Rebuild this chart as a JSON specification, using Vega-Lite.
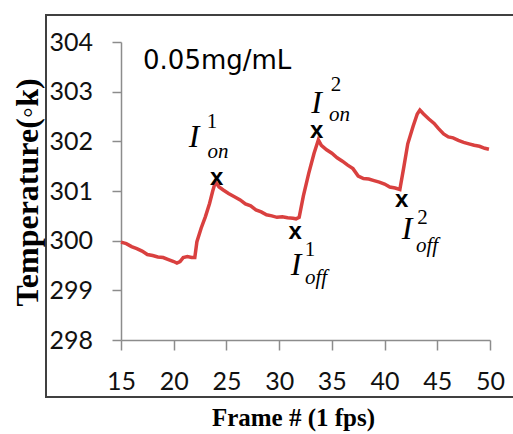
{
  "$schema": "https://vega.github.io/schema/vega-lite/v6.json",
  "width": 468,
  "height": 382,
  "autosize": {"type": "none"},
  "padding": {"left": 46, "top": 15, "right": 0, "bottom": 37},
  "background": "white",
  "config": {
    "view": {"stroke": "#404040", "strokeWidth": 2},
    "axis": {
      "grid": false,
      "domainColor": "#8c8c8c",
      "domainWidth": 1.5,
      "tickColor": "#8c8c8c",
      "tickWidth": 1.5,
      "labelFont": "Lato",
      "labelFontSize": 25,
      "labelColor": "#111111",
      "labelFlush": false,
      "labelOverlap": false,
      "titleFont": "Liberation Serif",
      "titleFontWeight": "bold",
      "titleColor": "#000000"
    }
  },
  "datasets": {
    "curve": [
      {"frame": 15.0, "temp": 299.97}, {"frame": 15.5, "temp": 299.94}, {"frame": 16.0, "temp": 299.88},
      {"frame": 16.5, "temp": 299.84}, {"frame": 17.0, "temp": 299.79}, {"frame": 17.5, "temp": 299.72},
      {"frame": 18.0, "temp": 299.70}, {"frame": 18.5, "temp": 299.67}, {"frame": 19.0, "temp": 299.66},
      {"frame": 19.5, "temp": 299.62}, {"frame": 20.0, "temp": 299.58}, {"frame": 20.3, "temp": 299.55},
      {"frame": 20.6, "temp": 299.58}, {"frame": 20.9, "temp": 299.66}, {"frame": 21.3, "temp": 299.68},
      {"frame": 21.7, "temp": 299.66}, {"frame": 22.0, "temp": 299.66}, {"frame": 22.2, "temp": 299.98},
      {"frame": 22.6, "temp": 300.25}, {"frame": 23.0, "temp": 300.48}, {"frame": 23.4, "temp": 300.75},
      {"frame": 23.7, "temp": 301.0}, {"frame": 23.95, "temp": 301.18}, {"frame": 24.3, "temp": 301.08},
      {"frame": 24.7, "temp": 301.02}, {"frame": 25.2, "temp": 300.95}, {"frame": 25.8, "temp": 300.88},
      {"frame": 26.3, "temp": 300.82}, {"frame": 26.8, "temp": 300.74}, {"frame": 27.3, "temp": 300.7},
      {"frame": 27.8, "temp": 300.62}, {"frame": 28.3, "temp": 300.58}, {"frame": 28.8, "temp": 300.52},
      {"frame": 29.3, "temp": 300.5}, {"frame": 29.8, "temp": 300.47}, {"frame": 30.3, "temp": 300.48},
      {"frame": 30.8, "temp": 300.46}, {"frame": 31.3, "temp": 300.45}, {"frame": 31.6, "temp": 300.44},
      {"frame": 31.9, "temp": 300.47}, {"frame": 32.3, "temp": 300.9}, {"frame": 32.8, "temp": 301.35},
      {"frame": 33.3, "temp": 301.75}, {"frame": 33.72, "temp": 302.03}, {"frame": 34.0, "temp": 301.92},
      {"frame": 34.5, "temp": 301.83}, {"frame": 35.0, "temp": 301.76}, {"frame": 35.5, "temp": 301.67},
      {"frame": 36.0, "temp": 301.6}, {"frame": 36.5, "temp": 301.52}, {"frame": 37.0, "temp": 301.45},
      {"frame": 37.5, "temp": 301.3}, {"frame": 38.0, "temp": 301.25}, {"frame": 38.5, "temp": 301.24},
      {"frame": 39.0, "temp": 301.21}, {"frame": 39.5, "temp": 301.18}, {"frame": 40.0, "temp": 301.14},
      {"frame": 40.5, "temp": 301.08}, {"frame": 41.0, "temp": 301.06}, {"frame": 41.45, "temp": 301.03},
      {"frame": 41.8, "temp": 301.45}, {"frame": 42.2, "temp": 301.95}, {"frame": 42.7, "temp": 302.3},
      {"frame": 43.1, "temp": 302.55}, {"frame": 43.35, "temp": 302.63}, {"frame": 43.7, "temp": 302.55},
      {"frame": 44.2, "temp": 302.45}, {"frame": 44.7, "temp": 302.36}, {"frame": 45.1, "temp": 302.26},
      {"frame": 45.6, "temp": 302.15}, {"frame": 46.05, "temp": 302.09}, {"frame": 46.5, "temp": 302.07},
      {"frame": 47.0, "temp": 302.02}, {"frame": 47.5, "temp": 301.98}, {"frame": 48.0, "temp": 301.95},
      {"frame": 48.5, "temp": 301.92}, {"frame": 49.0, "temp": 301.9}, {"frame": 49.5, "temp": 301.86},
      {"frame": 49.9, "temp": 301.84}
    ],
    "markers": [
      {"frame": 24.08, "temp": 301.26},
      {"frame": 31.51, "temp": 300.18},
      {"frame": 33.57, "temp": 302.2},
      {"frame": 41.62, "temp": 300.82}
    ],
    "labels": [
      {"part": "I", "text": "I", "frame": 21.93, "temp": 302.09},
      {"part": "sup", "text": "1", "frame": 23.63, "temp": 302.39},
      {"part": "sub", "text": "on", "frame": 24.2, "temp": 301.79},
      {"part": "I", "text": "I", "frame": 33.55, "temp": 302.77},
      {"part": "sup", "text": "2", "frame": 35.4, "temp": 303.13},
      {"part": "sub", "text": "on", "frame": 35.73, "temp": 302.53},
      {"part": "I", "text": "I", "frame": 31.6, "temp": 299.52},
      {"part": "sup", "text": "1", "frame": 32.93, "temp": 299.82},
      {"part": "sub", "text": "off", "frame": 33.5, "temp": 299.25},
      {"part": "I", "text": "I", "frame": 42.13, "temp": 300.23},
      {"part": "sup", "text": "2", "frame": 43.6, "temp": 300.45},
      {"part": "sub", "text": "off", "frame": 44.03, "temp": 299.9}
    ],
    "note": [
      {"text": "0.05mg/mL", "frame": 17.09, "temp": 303.61}
    ]
  },
  "encoding": {
    "x": {
      "field": "frame",
      "type": "quantitative",
      "scale": {"domain": [15, 50], "range": [75, 444], "nice": false, "zero": false},
      "axis": {
        "title": "Frame # (1 fps)",
        "values": [15, 20, 25, 30, 35, 40, 45, 50],
        "offset": -57,
        "tickSize": 10,
        "labelPadding": 19,
        "labelBaseline": "top",
        "labelAlign": "center",
        "titleFontSize": 25,
        "titleX": 247,
        "titleY": 85,
        "titleAlign": "center",
        "titleBaseline": "alphabetic"
      }
    },
    "y": {
      "field": "temp",
      "type": "quantitative",
      "scale": {"domain": [298, 304], "range": [325, 27], "nice": false, "zero": false},
      "axis": {
        "title": "Temperature(◦k)",
        "values": [298, 299, 300, 301, 302, 303, 304],
        "offset": -75,
        "tickSize": 9,
        "labelAlign": "left",
        "labelBaseline": "middle",
        "labelPadding": 63,
        "titleFontSize": 32,
        "titleAngle": -90,
        "titleX": -84,
        "titleY": 177,
        "titleAlign": "center",
        "titleBaseline": "alphabetic"
      }
    }
  },
  "layer": [
    {
      "data": {"name": "curve"},
      "mark": {"type": "line", "color": "#d9403f", "strokeWidth": 3.5, "interpolate": "linear"}
    },
    {
      "data": {"name": "markers"},
      "mark": {"type": "text", "text": "x", "font": "Liberation Sans", "fontWeight": "bold", "fontSize": 24, "color": "#000000", "align": "center", "baseline": "middle"}
    },
    {
      "data": {"name": "labels"},
      "transform": [{"filter": "datum.part === 'I'"}],
      "mark": {"type": "text", "font": "Liberation Serif", "fontStyle": "italic", "fontSize": 32, "color": "#000000", "align": "center", "baseline": "middle"},
      "encoding": {"text": {"field": "text"}}
    },
    {
      "data": {"name": "labels"},
      "transform": [{"filter": "datum.part === 'sup'"}],
      "mark": {"type": "text", "font": "Liberation Serif", "fontSize": 21, "color": "#000000", "align": "center", "baseline": "middle"},
      "encoding": {"text": {"field": "text"}}
    },
    {
      "data": {"name": "labels"},
      "transform": [{"filter": "datum.part === 'sub'"}],
      "mark": {"type": "text", "font": "Liberation Serif", "fontStyle": "italic", "fontSize": 21, "color": "#000000", "align": "center", "baseline": "middle"},
      "encoding": {"text": {"field": "text"}}
    },
    {
      "data": {"name": "note"},
      "mark": {"type": "text", "font": "DejaVu Sans", "fontSize": 26, "color": "#000000", "align": "left", "baseline": "middle"},
      "encoding": {"text": {"field": "text"}}
    }
  ]
}
